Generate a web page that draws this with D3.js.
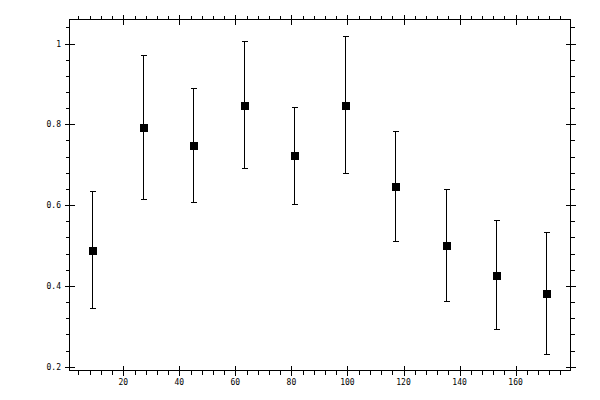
<!DOCTYPE html>
<html>
<head>
<meta charset="utf-8">
<script src="https://cdn.jsdelivr.net/npm/d3@7"></script>
<style>
  body { margin: 0; background: #fff; }
  svg { display: block; }
  text { font-family: "DejaVu Sans Mono", monospace; font-size: 8px; fill: #000; }
</style>
</head>
<body>
<svg id="chart"></svg>
<script>
const width = 600;
const height = 400;

// data
const xValues = [9, 27, 45, 63, 81, 99, 117, 135, 153, 171];
const yValues = [0.490, 0.794, 0.750, 0.849, 0.723, 0.849, 0.648, 0.502, 0.428, 0.383];
const yErrors = [0.145, 0.178, 0.141, 0.157, 0.119, 0.170, 0.136, 0.139, 0.134, 0.151];

const xMajorTicks = [20, 40, 60, 80, 100, 120, 140, 160];
const yMajorTicks = [0.2, 0.4, 0.6, 0.8, 1];

const svg = d3.select('#chart')
    .attr('width', width)
    .attr('height', height);

const plotLeft = 69.5, plotRight = 570.5, plotTop = 19.5, plotBottom = 370.5;

const x = d3.scaleLinear().domain([0.8, 179.6]).range([plotLeft, plotRight]);
const y = d3.scaleLinear().domain([0.1908, 1.0594]).range([plotBottom, plotTop]);

const xMinor = d3.range(4, 180, 4).filter(v => v % 20 !== 0);
const yMinor = d3.range(0.2, 1.06, 0.04).map(v => +v.toFixed(2))
  .filter(v => Math.abs(v * 5 - Math.round(v * 5)) > 1e-6);

const g = svg.append('g')
  .attr('stroke', '#000')
  .attr('stroke-width', 1)
  .attr('shape-rendering', 'crispEdges');

// frame
g.append('rect')
  .attr('x', plotLeft).attr('y', plotTop)
  .attr('width', plotRight - plotLeft).attr('height', plotBottom - plotTop)
  .attr('fill', 'none');

const sx = v => Math.round(x(v)) + 0.5;
const sy = v => Math.round(y(v)) + 0.5;

// bottom + top ticks
g.selectAll('.xmaj').data(xMajorTicks).enter().append('line')
  .attr('x1', sx).attr('x2', sx)
  .attr('y1', plotBottom - 5).attr('y2', plotBottom + 5);
g.selectAll('.xmajt').data(xMajorTicks).enter().append('line')
  .attr('x1', sx).attr('x2', sx)
  .attr('y1', plotTop - 5).attr('y2', plotTop + 5);
g.selectAll('.xmin').data(xMinor).enter().append('line')
  .attr('x1', sx).attr('x2', sx)
  .attr('y1', plotBottom).attr('y2', plotBottom + 4);
g.selectAll('.xmint').data(xMinor).enter().append('line')
  .attr('x1', sx).attr('x2', sx)
  .attr('y1', plotTop).attr('y2', plotTop - 4);

// left + right ticks
g.selectAll('.ymaj').data(yMajorTicks).enter().append('line')
  .attr('y1', sy).attr('y2', sy)
  .attr('x1', plotLeft - 5).attr('x2', plotLeft + 5);
g.selectAll('.ymajr').data(yMajorTicks).enter().append('line')
  .attr('y1', sy).attr('y2', sy)
  .attr('x1', plotRight - 5).attr('x2', plotRight + 5);
g.selectAll('.ymin').data(yMinor).enter().append('line')
  .attr('y1', sy).attr('y2', sy)
  .attr('x1', plotLeft).attr('x2', plotLeft - 4);
g.selectAll('.yminr').data(yMinor).enter().append('line')
  .attr('y1', sy).attr('y2', sy)
  .attr('x1', plotRight).attr('x2', plotRight + 4);

// tick labels
const fmt = d3.format('~g');
svg.selectAll('.xlab').data(xMajorTicks).enter().append('text')
  .attr('x', d => x(d))
  .attr('y', 385)
  .attr('text-anchor', 'middle')
  .text(fmt);
svg.selectAll('.ylab').data(yMajorTicks).enter().append('text')
  .attr('x', 61)
  .attr('y', d => y(d) + 3)
  .attr('text-anchor', 'end')
  .text(fmt);

// error bars
const pts = xValues.map((v, i) => ({x: v, y: yValues[i], e: yErrors[i]}));

const bars = g.selectAll('.err').data(pts).enter().append('g');
bars.append('line')
  .attr('x1', d => sx(d.x)).attr('x2', d => sx(d.x))
  .attr('y1', d => sy(d.y - d.e)).attr('y2', d => sy(d.y + d.e));
bars.append('line')
  .attr('x1', d => sx(d.x) - 3).attr('x2', d => sx(d.x) + 3)
  .attr('y1', d => sy(d.y + d.e)).attr('y2', d => sy(d.y + d.e));
bars.append('line')
  .attr('x1', d => sx(d.x) - 3).attr('x2', d => sx(d.x) + 3)
  .attr('y1', d => sy(d.y - d.e)).attr('y2', d => sy(d.y - d.e));

// square markers
svg.selectAll('.pt').data(pts).enter().append('rect')
  .attr('x', d => Math.round(x(d.x)) - 3.5)
  .attr('y', d => Math.round(y(d.y)) - 3.5)
  .attr('width', 8).attr('height', 8)
  .attr('fill', '#000')
  .attr('shape-rendering', 'crispEdges');
</script>
</body>
</html>
